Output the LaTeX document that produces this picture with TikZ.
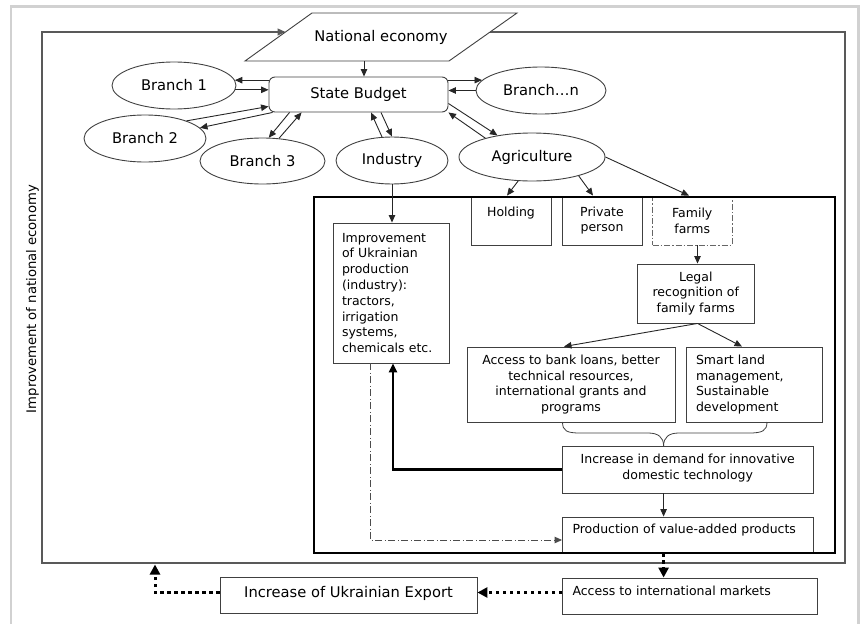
\documentclass[tikz,border=0pt]{standalone}
\usepackage{fontspec}
\setmainfont{DejaVu Sans}
\usetikzlibrary{arrows.meta,calc,shapes.geometric}
\begin{document}
\begin{tikzpicture}[x=1pt,y=-1pt,
  big/.style={font=\fontsize{14.7}{17}\selectfont},
  sml/.style={font=\fontsize{12.5}{15.8}\selectfont},
  ell/.style={ellipse, draw=black!75, line width=0.9pt, inner sep=0pt, big},
  bx/.style={rectangle, draw=black!75, line width=0.9pt, inner sep=0pt, sml, align=center},
  lbx/.style={rectangle, draw=black!75, line width=0.9pt, inner ysep=0pt, sml, align=left},
  arr/.style={-{Triangle[length=7.5pt,width=6.5pt]}, line width=0.9pt, black!85},
  thickarr/.style={-{Triangle[length=9pt,width=8pt]}, line width=2.2pt, black},
  dotarr/.style={-{Triangle[length=10pt,width=10pt]}, line width=3pt, black, dash pattern=on 3.5pt off 3.5pt},
  ddarr/.style={-{Triangle[length=7.5pt,width=6.5pt]}, line width=0.9pt, black!70, dash pattern=on 7pt off 2.5pt on 1pt off 2.5pt},
  loopline/.style={-{Triangle[length=8pt,width=7pt]}, line width=1.2pt, black!65}
]
\useasboundingbox (0,0) rectangle (860,624);
% light frame
\draw[black!18, line width=2.2pt] (11,630) -- (11,6.5) -- (858.5,6.5) -- (858.5,630);

% outer loop
\coordinate (neL) at (285.5,32);
\coordinate (neR) at (490,32);
\coordinate (oTR) at (845,32);
\coordinate (oBR) at (845,563);
\coordinate (oBL) at (42,563);
\coordinate (oTL) at (42,32);
\draw[loopline] (neR) -- (oTR) -- (oBR) -- (oBL) -- (oTL) -- (neL);

% national economy parallelogram
\draw[black!75, line width=0.9pt, fill=white] (245,61) -- (312,13) -- (517,13) -- (449,61) -- cycle;
\node[big] (ne) at (381,37) {National economy};
\coordinate (neB) at (364,61);

% rotated label
\node[font=\fontsize{13.2}{15}\selectfont, rotate=90] (impnat) at (32.5,299) {Improvement of national economy};

% top nodes
\node[rectangle, rounded corners=6pt, draw=black!75, line width=0.9pt, minimum width=179, minimum height=35, big] (sb) at (358.5,94.5) {State Budget};
\node[ell, minimum width=124, minimum height=47] (b1) at (174,85.5) {Branch 1};
\node[ell, minimum width=122, minimum height=47] (b2) at (145,138.5) {Branch 2};
\node[ell, minimum width=125, minimum height=46] (b3) at (262.5,161) {Branch 3};
\node[ell, minimum width=112, minimum height=47] (ind) at (392,160.5) {Industry};
\node[ell, minimum width=130, minimum height=47] (bn) at (541,90.5) {Branch…n};
\node[ell, minimum width=146, minimum height=48] (ag) at (532,157) {Agriculture};

% connectors top
\draw[arr] (neB) -- (neB |- sb.north);
\draw[arr] (sb.west |- b1.5) -- (b1.5);
\draw[arr] (b1.-4) -- (sb.west |- b1.-4);
\draw[arr] (b2.23) -- ($(sb.south west)+(0,-6)$);
\draw[arr] ($(sb.south west)+(4,0)$) -- (b2.11);
\draw[arr] ($(sb.south west)+(21,0)$) -- (b3.75);
\draw[arr] (b3.54) -- ($(sb.south west)+(33,0)$);
\draw[arr] (ind.113) -- ($(sb.south)+(12.5,0)$);
\draw[arr] ($(sb.south)+(22.5,0)$) -- (ind.north);
\draw[arr] (sb.east |- bn.170) -- (bn.170);
\draw[arr] (bn.west) -- (sb.east |- bn.west);
\draw[arr] ($(sb.east)+(0,9)$) -- (ag.148);
\draw[arr] (ag.158) -- (sb.south east);

% inner boxes
\node[bx, minimum width=80, minimum height=49] (hold) at (511,220.5) {Holding\\\phantom{p}};
\node[bx, minimum width=80, minimum height=49] (priv) at (602,220.5) {Private\\person};
\node[bx, minimum width=79.5, minimum height=49, draw=black!60, dash pattern=on 6pt off 2pt on 1.5pt off 2pt] (fam) at (692.25,220.5) {Family\\farms};
\node[bx, minimum width=116.5, minimum height=59] (legal) at (695.75,293.5) {Legal\\recognition of\\family farms};
\node[bx, minimum width=208, minimum height=75] (acc) at (571,384.5) {Access to bank loans, better\\technical resources,\\international grants and\\programs};
\node[lbx, text width=116, inner xsep=10pt, minimum height=75] (smart) at (754,384.5) {Smart land\\management,\\Sustainable\\development};
\node[lbx, text width=98, inner xsep=9pt, minimum height=140] (impr) at (391,293) {Improvement\\of Ukrainian\\production\\(industry):\\tractors,\\irrigation\\systems,\\chemicals etc.};
\node[bx, minimum width=250.5, minimum height=47, text depth=5pt] (incr) at (687.75,469.5) {Increase in demand for innovative\\domestic technology};
\node[lbx, text width=230.5, inner xsep=10pt, minimum height=35, text depth=11pt] (prod) at (687.75,534.5) {Production of value-added products};
\node[lbx, text width=234.5, inner xsep=10pt, minimum height=36, text depth=11pt] (intl) at (689.75,596) {Access to international markets};
\node[bx, big, minimum width=257, minimum height=36, text depth=7pt] (exp) at (348.5,595) {Increase of Ukrainian Export};

% thick frame
\node[draw=black, line width=2pt, minimum width=521, minimum height=356, inner sep=0pt, anchor=north west] (frame) at (313,196) {};

% brace
\draw[black!75, line width=0.8pt] (562.5,422) .. controls (562.5,431) and (567,433) .. (580,433) -- (648,433) .. controls (658,433) and (663.6,437) .. (663.6,446);
\draw[black!75, line width=0.8pt] (767,422) .. controls (767,431) and (762,433) .. (749,433) -- (679,433) .. controls (669,433) and (663.6,437) .. (663.6,446);

% inner connectors
\draw[arr] (ag.240) -- ($(hold.north)+(-4,0)$);
\draw[arr] (ag.-22) -- ($(priv.north)+(-9,0)$);
\draw[arr] (ag.east) -- ($(fam.north)+(-3.25,0)$);
\draw[arr] (ind.south) -- (ind.south |- impr.north);
\draw[arr] ($(fam.south)+(5.25,0)$) -- ($(legal.north)+(1.75,0)$);
\draw[arr] ($(legal.south)+(1.75,0)$) -- ($(acc.north)+(-7,0)$);
\draw[arr] ($(legal.south)+(1.75,0)$) -- ($(smart.north)+(-12,0)$);
\draw[thickarr] (incr.west) -| ($(impr.south)+(2,0)$);
\draw[ddarr] ($(impr.south)+(-21,0)$) |- ($(prod.west)+(0,5.5)$);
\draw[arr] ($(incr.south)+(-24.15,0)$) -- ($(prod.north)+(-24.15,0)$);

% bottom connectors
\draw[dotarr] ($(prod.south)+(-24.15,1)$) -- ($(intl.north)+(-26.15,0)$);
\draw[dotarr] ($(intl.west)+(0,-3.5)$) -- ($(exp.east)+(0,-2.5)$);
\coordinate (upT) at (155,564.5);
\draw[dotarr] ($(exp.west)+(0,-2.5)$) -| (upT);
\end{tikzpicture}
\end{document}
